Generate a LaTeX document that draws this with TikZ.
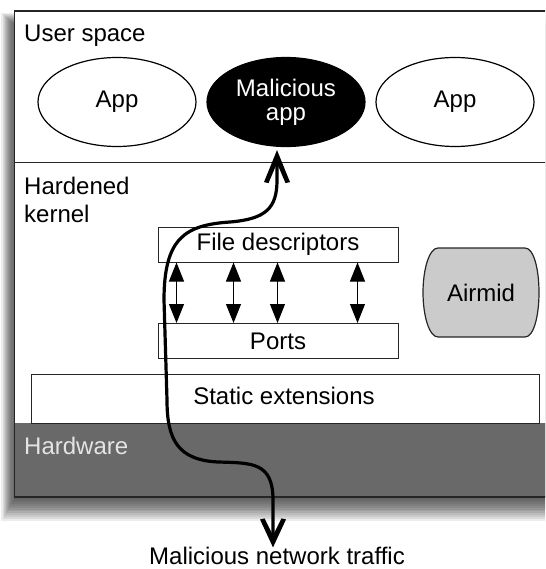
\documentclass[tikz,border=0pt]{standalone}
\usepackage{fontspec}
\setmainfont{Liberation Sans}
\usetikzlibrary{arrows.meta,shapes.geometric}
\definecolor{hwgray}{HTML}{696969}
\definecolor{airgray}{HTML}{CBCBCB}
\definecolor{hwtext}{HTML}{E4E4E4}
\tikzset{
  lbl/.style={anchor=base west, inner sep=0pt},
  appnode/.style={ellipse, draw=black, line width=1.2pt, minimum width=158pt, minimum height=89pt, inner sep=0pt},
  boxnode/.style={draw=black!85, line width=1pt, fill=white, minimum width=240pt, minimum height=35pt, inner sep=0pt},
  dbl/.style={line width=1pt, {Triangle[length=19pt,width=15pt]}-{Triangle[length=19pt,width=15pt]}},
  flow/.style={line width=3.2pt, line cap=round, line join=round}
}
\begin{document}
\begin{tikzpicture}[x=1pt, y=-1pt, font=\fontsize{24}{24}\selectfont]
\useasboundingbox (0,0) rectangle (545,569);
\clip (0,0) rectangle (545,569);
% soft shadow
\foreach \i in {0,...,11}{
  \fill[black, opacity=0.075] (13.6-\i*1.1, 24-\i) rectangle (600, 500+\i*1.9);
}
% frame
\fill[white] (14.6,11) rectangle (600,423);
\fill[hwgray] (14.6,423) rectangle (600,497);
\draw[black!85, line width=1pt] (14.6,163) -- (600,163);
% static extensions
\node[boxnode, minimum width=508pt, minimum height=49pt, fill=white] (static) at (285,398.5) {};
\node[inner sep=0pt] (statictxt) at (284,396) {Static extensions};
\draw[black!85, line width=1.6pt] (600,11) -- (14.6,11) -- (14.6,497) -- (600,497);
% labels
\node[lbl] (user) at (24,42) {User space};
\node[lbl] (hard) at (24,195) {Hardened};
\node[lbl] (kern) at (24,222) {kernel};
\node[lbl, text=hwtext] (hw) at (24,454) {Hardware};
% apps
\node[appnode] (app1) at (117,102) {App};
\node[appnode, fill=black, text=white, align=center] (mal) at (286,102) {Malicious\\app};
\node[appnode] (app2) at (455,102) {App};
% fd / ports
\node[boxnode] (fd) at (278,244.5) {File descriptors};
\node[boxnode] (ports) at (278,341) {Ports};
\foreach \dx in {19,76,120,200}{
  \draw[dbl] ([xshift=\dx pt]fd.south west) -- ([xshift=\dx pt]ports.north west);
}
% airmid
\fill[airgray] (438,248) -- (525,248) .. controls (534,248) and (539,270) .. (539,292.5)
  .. controls (539,315) and (534,337) .. (525,337) -- (438,337)
  .. controls (429,337) and (423,315) .. (423,292.5) .. controls (423,270) and (429,248) .. (438,248) -- cycle;
\draw[black!85, line width=1.2pt] (438,248) -- (525,248) .. controls (534,248) and (539,270) .. (539,292.5)
  .. controls (539,315) and (534,337) .. (525,337) -- (438,337)
  .. controls (429,337) and (423,315) .. (423,292.5) .. controls (423,270) and (429,248) .. (438,248) -- cycle;
\node[inner sep=0pt] (airmid) at (481,292.5) {Airmid};
% traffic
\node[inner sep=0pt, anchor=base] (traffic) at (277,564) {Malicious network traffic};
\coordinate (bottip) at ([xshift=-4pt,yshift=-1pt]traffic.north);
\coordinate (toptip) at ([xshift=-9pt,yshift=-3pt]mal.south);
\draw[flow] ([yshift=6pt]bottip) -- (273,500)
  .. controls (273,462) and (252,463) .. (218,462)
  .. controls (178,460) and (167,440) .. (167,400)
  -- (164,300)
  .. controls (164,238) and (185,225) .. (230,222)
  .. controls (266,219) and (277,208) .. (277,180)
  -- ([yshift=-6pt]toptip);
% arrow heads
\fill (toptip) -- ++(-13,32) -- ++(4.5,1) -- ([yshift=-13pt]toptip) -- ([shift={(8.5,33)}]toptip) -- ([shift={(13,32)}]toptip) -- cycle;
\fill (bottip) -- ++(-13,-28) -- ++(4.5,-1) -- ([yshift=12pt]bottip) -- ([shift={(8.5,-29)}]bottip) -- ([shift={(13,-28)}]bottip) -- cycle;
\end{tikzpicture}
\end{document}
